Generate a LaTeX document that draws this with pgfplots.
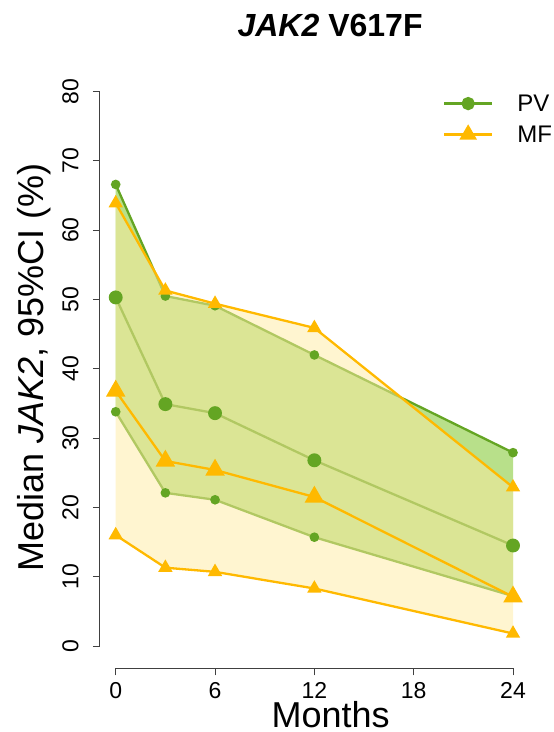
\documentclass[border=0pt]{standalone}
\usepackage{fontspec}
\setmainfont{Liberation Sans}
\usepackage{pgfplots}
\pgfplotsset{compat=1.18}

\definecolor{pvline}{RGB}{100,165,35}
\definecolor{pvfill}{RGB}{184,224,138}
\definecolor{mfline}{RGB}{255,185,0}
\definecolor{mffill}{RGB}{255,235,161}

\begin{document}
\begin{tikzpicture}
\begin{axis}[
  scale only axis, width=429.1bp, height=598.9bp,
  xmin=-0.96, xmax=24.96, ymin=-3.22, ymax=83.2,
  axis line style={draw=none},
  xtick={0,6,12,18,24}, ytick={0,10,...,80},
  tick align=outside, xtick pos=bottom, ytick pos=left,
  major tick length=7bp,
  tick style={black!75, line width=0.9bp},
  /pgf/number format/assume math mode=true,
  ticklabel style={font=\fontsize{23bp}{27bp}\selectfont},
  xticklabel style={anchor=north, inner sep=0pt},
  yticklabel style={rotate=90, anchor=south, inner sep=0pt},
  xticklabel shift=7bp, yticklabel shift=14bp,
  clip=false,
  legend style={draw=none, fill=none, at={(axis cs:19.76,79.6)}, anchor=north west,
    inner sep=0pt, nodes={inner sep=0pt, anchor=west},
    font=\fontsize{24bp}{29bp}\selectfont, column sep=24bp, row sep=13bp},
  legend cell align=left,
  legend image code/.code={\draw[mark repeat=2,mark phase=2,#1] plot coordinates {(0bp,0bp)(24bp,0bp)(48bp,0bp)};},
]
\addlegendimage{pvline, line width=2.3bp, mark=*, mark size=5.5bp, mark options={draw=none, fill=pvline}}
\addlegendentry{PV}
\addlegendimage{mfline, line width=2.3bp, mark=triangle*, mark size=8bp, mark options={draw=none, fill=mfline}}
\addlegendentry{MF}

% axis lines (R style, spanning the tick range)
\draw[black!75, line width=0.9bp] (axis cs:0,-3.22) -- (axis cs:24,-3.22);
\draw[black!75, line width=0.9bp] (axis cs:-0.96,0) -- (axis cs:-0.96,80);

% PV band
\addplot[forget plot, fill=pvfill, draw=none] coordinates {
 (0,66.6)(3,50.5)(6,49.1)(12,42.0)(24,27.9)
 (24,7.2)(12,15.7)(6,21.1)(3,22.1)(0,33.8)} -- cycle;
% PV lines
\addplot[forget plot, pvline, line width=2.3bp, mark=*, mark size=3.6bp, mark options={draw=none, fill=pvline}] coordinates {
 (0,66.6)(3,50.5)(6,49.1)(12,42.0)(24,27.9)};
\addplot[forget plot, pvline, line width=2.3bp, mark=*, mark size=5.8bp, mark options={draw=none, fill=pvline}] coordinates {
 (0,50.3)(3,34.9)(6,33.6)(12,26.8)(24,14.5)};
\addplot[forget plot, pvline, line width=2.3bp, mark=*, mark size=3.6bp, mark options={draw=none, fill=pvline}] coordinates {
 (0,33.8)(3,22.1)(6,21.1)(12,15.7)(24,7.2)};

% MF band
\addplot[forget plot, fill=mffill, fill opacity=0.5, draw=none] coordinates {
 (0,63.9)(3,51.3)(6,49.4)(12,45.9)(24,22.9)
 (24,1.8)(12,8.3)(6,10.7)(3,11.3)(0,16.0)} -- cycle;
% MF lines
\addplot[forget plot, mfline, line width=2.3bp, mark=triangle*, mark size=6bp, mark options={draw=none, fill=mfline}] coordinates {
 (0,63.9)(3,51.3)(6,49.4)(12,45.9)(24,22.9)};
\addplot[forget plot, mfline, line width=2.3bp, mark=triangle*, mark size=9bp, mark options={draw=none, fill=mfline}] coordinates {
 (0,36.8)(3,26.7)(6,25.4)(12,21.5)(24,7.1)};
\addplot[forget plot, mfline, line width=2.3bp, mark=triangle*, mark size=6bp, mark options={draw=none, fill=mfline}] coordinates {
 (0,16.0)(3,11.3)(6,10.7)(12,8.3)(24,1.8)};

% titles and labels
\node[anchor=base, inner sep=0pt, font=\fontsize{32bp}{38bp}\selectfont\bfseries] at (axis cs:12.95,87.88) {\textit{JAK2} V617F};
\node[anchor=base, inner sep=0pt, rotate=90, font=\fontsize{36bp}{42bp}\selectfont] at (axis cs:-4.39,40.2) {Median \textit{JAK2}, 95\%CI (\%)};
\node[anchor=base, inner sep=0pt, font=\fontsize{36bp}{42bp}\selectfont] at (axis cs:12.98,-11.75) {Months};

\coordinate (P1) at (axis cs:-6.99,-12.41);
\coordinate (P2) at (axis cs:26.42,93.22);
\end{axis}
\pgfresetboundingbox
\path (P1) rectangle (P2);
\end{tikzpicture}
\end{document}
